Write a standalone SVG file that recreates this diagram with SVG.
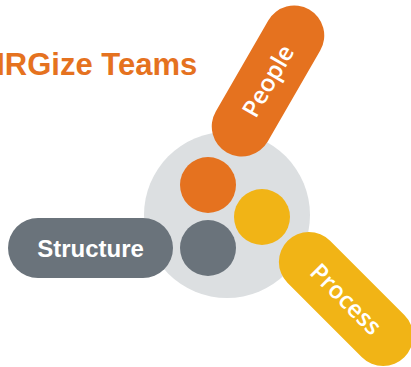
<svg xmlns="http://www.w3.org/2000/svg" width="411" height="367" viewBox="0 0 411 367">
  <style>
    .title { font-family: "Liberation Sans", Arial, sans-serif; font-weight: 700; font-size: 31px; fill: #E5721F; }
    .label { font-family: "Liberation Sans", Arial, sans-serif; font-weight: 700; font-size: 24px; fill: #FFFFFF; text-anchor: middle; }
    .round { font-family: "Open Sans", "Liberation Sans", sans-serif; font-weight: 600; font-size: 24px; }
    .orange { fill: #E5721F; }
    .yellow { fill: #F1B416; }
    .slate { fill: #6A737B; }
    .hub { fill: #DCDFE1; }
  </style>
  <defs>
    <rect id="pill" x="-82.5" y="-30" width="165" height="60" rx="30" ry="30"/>
  </defs>

  <rect width="411" height="367" fill="#FFFFFF"/>

  <!-- heading, running off the left edge -->
  <text class="title" x="-3.8" y="75">IRGize Teams</text>

  <!-- central hub with three dots -->
  <g id="hub">
    <circle class="hub" cx="227" cy="215" r="83"/>
    <circle class="orange" cx="208" cy="185" r="28"/>
    <circle class="yellow" cx="262" cy="217" r="28"/>
    <circle class="slate" cx="208" cy="248" r="28"/>
  </g>

  <g id="structure" transform="translate(90.5,248)">
    <use href="#pill" class="slate"/>
    <text class="label" x="0" y="8.5">Structure</text>
  </g>

  <g id="people" transform="translate(268,81) rotate(-60)">
    <use href="#pill" class="orange"/>
    <text class="label round" x="0" y="8.5">People</text>
  </g>

  <g id="process" transform="translate(346,299) rotate(45)">
    <use href="#pill" class="yellow"/>
    <text class="label round" x="0" y="8.5">Process</text>
  </g>
</svg>
